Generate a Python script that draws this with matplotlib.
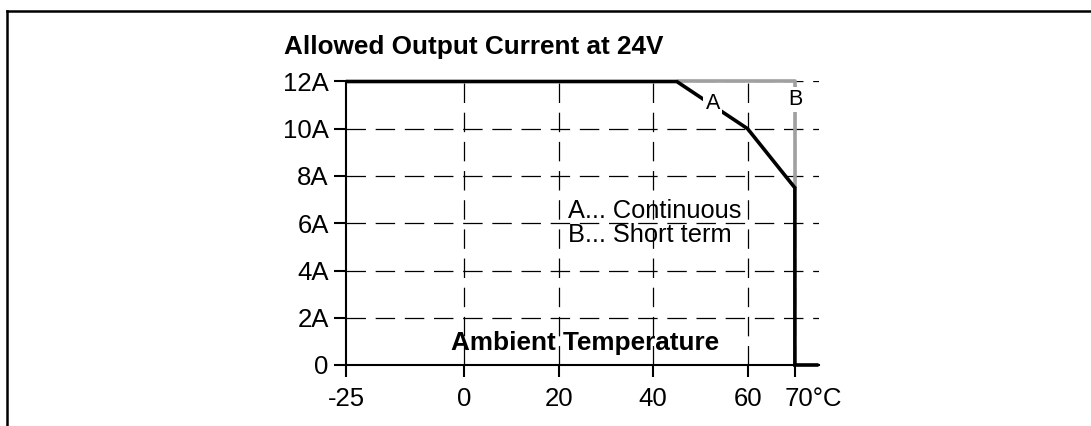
import matplotlib
matplotlib.use("Agg")
import matplotlib.pyplot as plt
from matplotlib.lines import Line2D
from matplotlib.transforms import ScaledTranslation

# === DATA ===
curve_a_temp = [-25, 45, 60, 70, 70, 75]
curve_a_amps = [12, 12, 10, 7.5, 0, 0]
curve_b_temp = [45, 70, 70]
curve_b_amps = [12, 12, 7.5]
x_ticks = [-25, 0, 20, 40, 60, 70]
x_labels = ["-25", "0", "20", "40", "60", "70°C"]
y_ticks = [0, 2, 4, 6, 8, 10, 12]
y_labels = ["0", "2A", "4A", "6A", "8A", "10A", "12A"]

plt.rcParams['font.family'] = ['Liberation Sans', 'DejaVu Sans']
plt.rcParams['lines.scale_dashes'] = False

fig = plt.figure(figsize=(10.91, 4.26), dpi=100)
ax = fig.add_axes([346 / 1091, 61 / 426, 472.5 / 1091, 283.5 / 426])

# grid
for t in [0, 20, 40, 60, 70]:
    ax.plot([t, t], [0, 12], color="black", lw=0.9, ls=(0, (14, 7)), zorder=1)
for a in [2, 4, 6, 8, 10, 12]:
    ax.plot([-25, 75], [a, a], color="black", lw=0.9, ls=(0, (14, 7)), zorder=1)

# curves
ax.plot(curve_b_temp, curve_b_amps, color="#a0a0a0", lw=2.6, zorder=3,
        solid_capstyle="butt", clip_on=False)
ax.plot(curve_a_temp, curve_a_amps, color="black", lw=2.6, zorder=4,
        solid_capstyle="butt", solid_joinstyle="miter", clip_on=False)

ax.set_xlim(-25, 75)
ax.set_ylim(0, 12)
ax.set_xticks(x_ticks)
ax.set_xticklabels(x_labels)
ax.set_yticks(y_ticks)
ax.set_yticklabels(y_labels)
ax.tick_params(axis="both", length=8.5, width=1.5, labelsize=18.5, color="black")
ax.tick_params(axis="x", pad=7.5)
ax.tick_params(axis="y", pad=4)
for side in ["top", "right"]:
    ax.spines[side].set_visible(False)
for side in ["left", "bottom"]:
    ax.spines[side].set_linewidth(1.5)

lab = ax.get_xticklabels()[-1]
lab.set_horizontalalignment("left")
lab.set_transform(lab.get_transform() + ScaledTranslation(-10 / 100, 0, fig.dpi_scale_trans))

# labels
box = dict(facecolor="white", edgecolor="none", pad=1.5)
ax.text(52.6, 11.05, "A", fontsize=15.5, ha="center", va="center", bbox=box, zorder=5)
ax.text(70, 11.25, "B", fontsize=15.5, ha="center", va="center", bbox=box, zorder=5)
ax.text(22, 6.5, "A... Continuous", fontsize=18.3, ha="left", va="center", zorder=5)
ax.text(22, 5.5, "B... Short term", fontsize=18.3, ha="left", va="center", zorder=5)
ax.text(25.5, 0.92, "Ambient Temperature", fontsize=18.8, fontweight="bold",
        ha="center", va="center", zorder=5)

fig.text(284 / 1091, 1 - 47 / 426, "Allowed Output Current at 24V", fontsize=18.8,
         fontweight="bold", ha="left", va="center")

# outer frame
fig.add_artist(Line2D([7 / 1091, 1], [1 - 11 / 426, 1 - 11 / 426], color="black", lw=1.8))
fig.add_artist(Line2D([7 / 1091, 7 / 1091], [0, 1 - 11 / 426], color="black", lw=1.8))

fig.savefig("out.png", dpi=100)
